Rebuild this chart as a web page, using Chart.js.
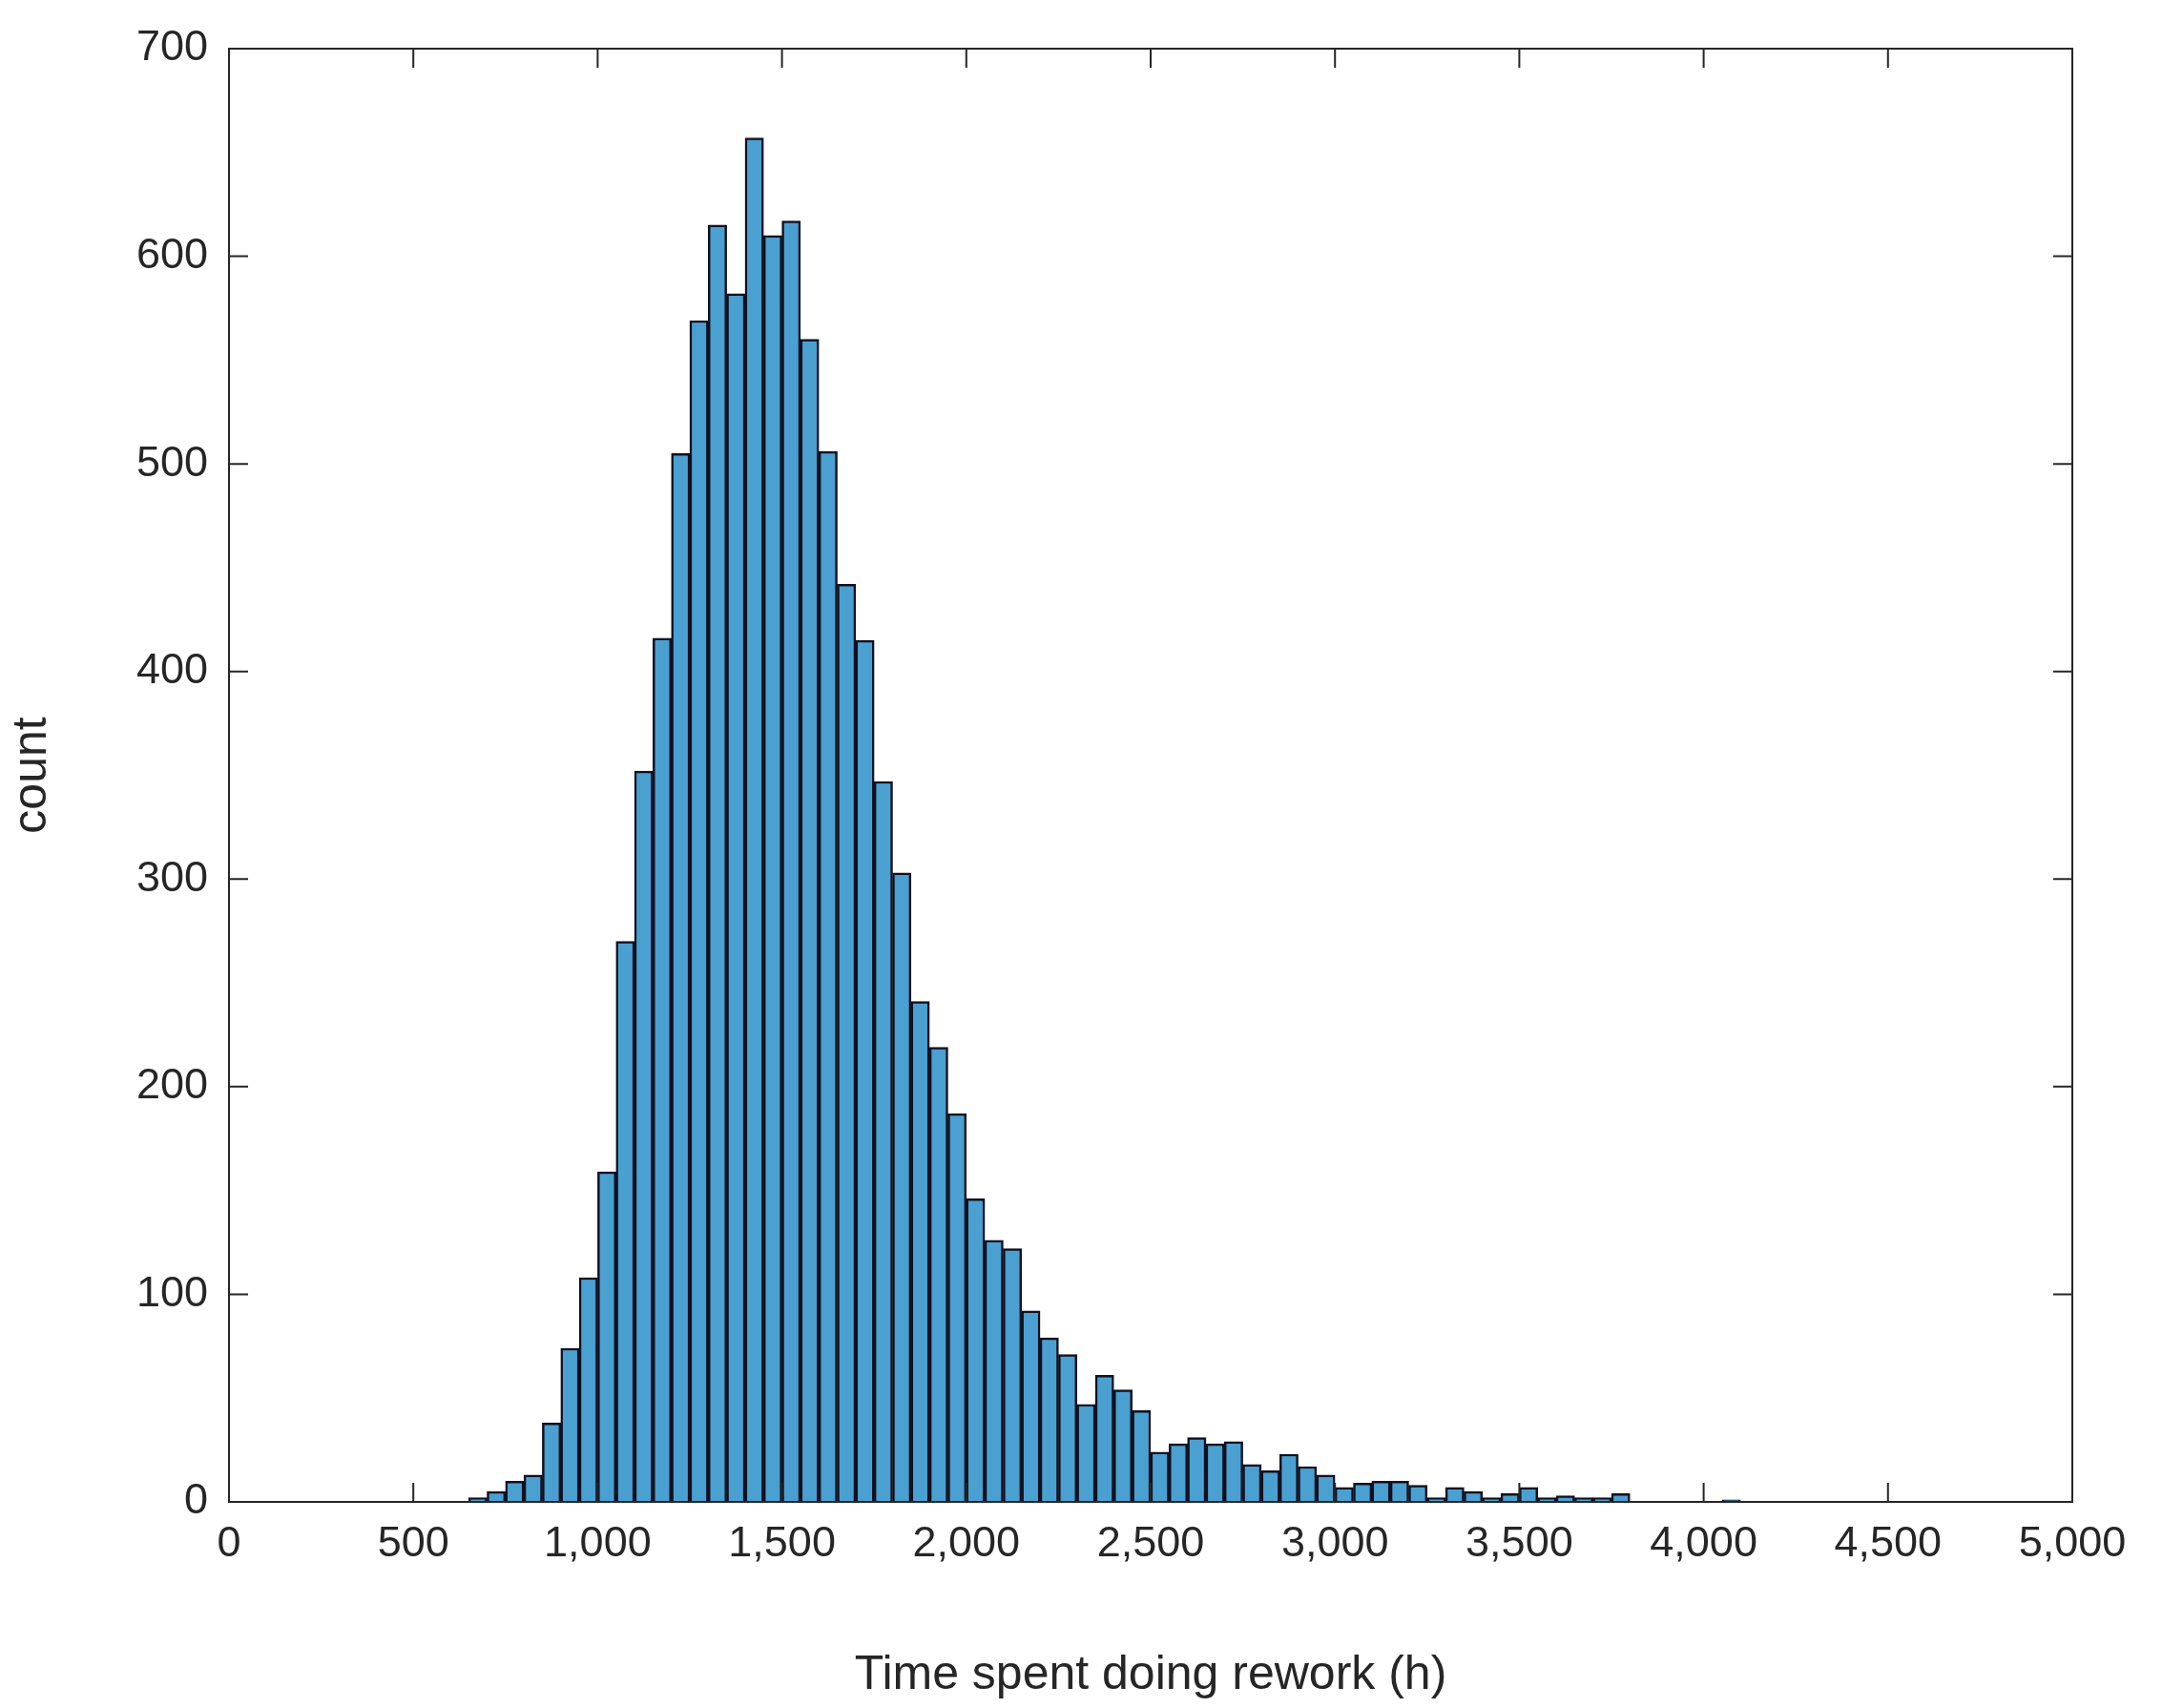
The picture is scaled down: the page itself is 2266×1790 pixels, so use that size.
<!DOCTYPE html>
<html><head><meta charset="utf-8">
<script src="https://cdn.jsdelivr.net/npm/chart.js@4"></script>
<style>html,body{margin:0;padding:0;background:#fff}#c{display:block}</style>
</head><body>
<canvas id="c" width="2266" height="1790"></canvas>
<script>
const binStart = 650;
const binWidth = 50;
const counts = [2,5,10,13,38,74,108,159,270,352,416,505,569,615,582,657,610,617,560,506,442,415,347,303,241,219,187,146,126,122,92,79,71,47,61,54,44,24,28,31,28,29,18,15,23,17,13,7,9,10,10,8,2,7,5,2,4,7,2,3,2,2,4,0,0,0,0,0,1];
const xTicks = [0,500,1000,1500,2000,2500,3000,3500,4000,4500,5000];
const yTicks = [0,100,200,300,400,500,600,700];

const data = counts.map((c,i)=>({x: binStart + binWidth*i + binWidth/2, y: c}));
const txt = '#262626';
const font = {family:'Arial, Liberation Sans, sans-serif', size:45};

const frame = {
  id:'frame',
  afterDraw(ch){
    const {ctx, chartArea:a, scales:{x,y}} = ch;
    ctx.save();
    ctx.strokeStyle = txt; ctx.lineWidth = 2;
    ctx.strokeRect(a.left, a.top, a.right-a.left, a.bottom-a.top);
    const L = 20;
    ctx.beginPath();
    xTicks.forEach(v=>{const px=x.getPixelForValue(v);
      ctx.moveTo(px,a.bottom);ctx.lineTo(px,a.bottom-L);
      ctx.moveTo(px,a.top);ctx.lineTo(px,a.top+L);});
    yTicks.forEach(v=>{const py=y.getPixelForValue(v);
      ctx.moveTo(a.left,py);ctx.lineTo(a.left+L,py);
      ctx.moveTo(a.right,py);ctx.lineTo(a.right-L,py);});
    ctx.stroke();
    ctx.restore();
  }
};

new Chart(document.getElementById('c'), {
  type:'bar',
  data:{datasets:[{data, backgroundColor:'#4aa0d0', borderColor:'#101020', borderWidth:2.5,
    barPercentage:1, categoryPercentage:1, grouped:false}]},
  options:{
    responsive:false, animation:false,
    layout:{padding:{left:0,top:51,right:94,bottom:0}},
    plugins:{legend:{display:false}, tooltip:{enabled:false}},
    scales:{
      x:{type:'linear', min:0, max:5000, offset:false,
        afterBuildTicks(s){s.ticks = xTicks.map(v=>({value:v}));},
        afterFit(s){s.height = 216;},
        grid:{display:false}, border:{display:false},
        ticks:{color:txt, font, padding:10, maxRotation:0, autoSkip:false},
        title:{display:true, text:'Time spent doing rework (h)', color:txt, font:{...font,size:50}, padding:{top:4}}},
      y:{min:0, max:700,
        afterBuildTicks(s){s.ticks = yTicks.map(v=>({value:v}));},
        afterFit(s){s.width = 240;},
        grid:{display:false}, border:{display:false},
        ticks:{color:txt, font, padding:14},
        title:{display:true, text:'count', color:txt, font:{...font,size:50}, padding:{bottom:6}}}
    }
  },
  plugins:[frame]
});
</script>
</body></html>
